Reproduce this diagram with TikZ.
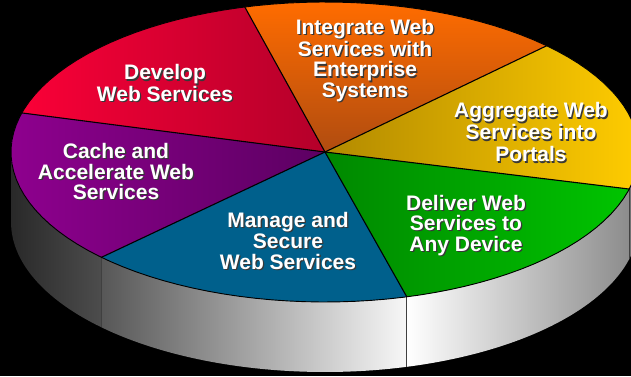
\documentclass[tikz,border=0pt]{standalone}
\usepackage{fontspec}
\setmainfont{Liberation Sans}
\definecolor{shadowc}{rgb}{0.22,0.22,0.22}
\definecolor{redL}{RGB}{250,0,55}
\definecolor{redR}{RGB}{180,0,42}
\definecolor{orT}{RGB}{255,108,0}
\definecolor{orB}{RGB}{176,76,16}
\definecolor{yeL}{RGB}{178,138,0}
\definecolor{yeR}{RGB}{255,204,0}
\definecolor{grL}{RGB}{0,136,0}
\definecolor{grR}{RGB}{0,196,0}
\definecolor{blu}{RGB}{0,96,140}
\definecolor{puL}{RGB}{142,0,142}
\definecolor{puR}{RGB}{92,0,98}
\newcommand\shd[1]{\leavevmode\rlap{\kern1.3pt\raisebox{-1.3pt}{\color{shadowc}#1}}#1}
\begin{document}
\begin{tikzpicture}[x=1pt,y=-1pt,
  lbl/.style={text=white, font=\fontsize{21}{20.5}\selectfont\bfseries, align=center, inner sep=0pt},
  sliceline/.style={draw=black, line width=1.1pt, line join=round, line cap=round},
  sideline/.style={draw=black!75, line width=0.9pt}]
\useasboundingbox (0,0) rectangle (631,376);
\fill[black] (0,0) rectangle (631,376);
\coordinate (C) at (325,152);
\coordinate (P1) at ({325+314*cos(255.2)},{152+150*sin(255.2)});
\coordinate (P2) at ({325+314*cos(314.9)},{152+150*sin(314.9)});
\coordinate (P3) at ({325+314*cos(14.3)},{152+150*sin(14.3)});
\coordinate (P4) at ({325+314*cos(74.9)},{152+150*sin(74.9)});
\coordinate (P5) at ({325+314*cos(135.4)},{152+150*sin(135.4)});
\coordinate (P6) at ({325+314*cos(195.1)},{152+150*sin(195.1)});
\coordinate (Q3) at ({325+314*cos(14.3)},{222+150*sin(14.3)});
\coordinate (Q4) at ({325+314*cos(74.9)},{222+150*sin(74.9)});
\coordinate (Q5) at ({325+314*cos(135.4)},{222+150*sin(135.4)});
% side pieces
\shade[left color=black!84, right color=black!70]
  plot[domain=135.4:180,samples=30] ({325+314*cos(\x)},{152+150*sin(\x)})
  -- plot[domain=180:135.4,samples=30] ({325+314*cos(\x)},{222+150*sin(\x)}) -- cycle;
\shade[left color=black!66, right color=white!97!black]
  plot[domain=74.9:135.4,samples=40] ({325+314*cos(\x)},{152+150*sin(\x)})
  -- plot[domain=135.4:74.9,samples=40] ({325+314*cos(\x)},{222+150*sin(\x)}) -- cycle;
\shade[left color=white, right color=black!45]
  plot[domain=14.3:74.9,samples=40] ({325+314*cos(\x)},{152+150*sin(\x)})
  -- plot[domain=74.9:14.3,samples=40] ({325+314*cos(\x)},{222+150*sin(\x)}) -- cycle;
\fill[black!55]
  plot[domain=0:14.3,samples=20] ({325+314*cos(\x)},{152+150*sin(\x)})
  -- plot[domain=14.3:0,samples=20] ({325+314*cos(\x)},{222+150*sin(\x)}) -- cycle;
\draw[sideline] (P5) -- (Q5);
\draw[sideline] (P4) -- (Q4);
\draw[sideline] (P3) -- (Q3);
% top slices
\shade[left color=redL, right color=redR] (C) -- plot[domain=195.1:255.2,samples=40] ({325+314*cos(\x)},{152+150*sin(\x)}) -- cycle;
\shade[top color=orT, bottom color=orB] (C) -- plot[domain=255.2:314.9,samples=40] ({325+314*cos(\x)},{152+150*sin(\x)}) -- cycle;
\shade[left color=yeL, right color=yeR] (C) -- plot[domain=314.9:374.3,samples=40] ({325+314*cos(\x)},{152+150*sin(\x)}) -- cycle;
\shade[left color=grL, right color=grR] (C) -- plot[domain=14.3:74.9,samples=40] ({325+314*cos(\x)},{152+150*sin(\x)}) -- cycle;
\fill[blu] (C) -- plot[domain=74.9:135.4,samples=40] ({325+314*cos(\x)},{152+150*sin(\x)}) -- cycle;
\shade[left color=puL, right color=puR] (C) -- plot[domain=135.4:195.1,samples=40] ({325+314*cos(\x)},{152+150*sin(\x)}) -- cycle;
% outlines
\draw[black, line width=0.9pt] plot[domain=0:360,samples=120] ({325+314*cos(\x)},{152+150*sin(\x)});
\draw[sliceline] (C) -- (P1);
\draw[sliceline] (C) -- (P2);
\draw[sliceline] (C) -- (P3);
\draw[sliceline] (C) -- (P4);
\draw[sliceline] (C) -- (P5);
\draw[sliceline] (C) -- (P6);
% labels
\node[lbl] (dev) at (165,83.8) {\shd{Develop}\\\shd{Web Services}};
\node[lbl] (int) at (365,61.2) {\shd{Integrate Web}\\\shd{Services with}\\\shd{Enterprise}\\\shd{Systems}};
\node[lbl, font=\fontsize{21}{22}\selectfont\bfseries] (agg) at (531,133) {\shd{Aggregate Web}\\\shd{Services into}\\\shd{Portals}};
\node[lbl] (cac) at (116,172.3) {\shd{Cache and}\\\shd{Accelerate Web}\\\shd{Services}};
\node[lbl, font=\fontsize{21}{21}\selectfont\bfseries] (man) at (288,241.7) {\shd{Manage and}\\\shd{Secure}\\\shd{Web Services}};
\node[lbl] (del) at (466,225.9) {\shd{Deliver Web}\\\shd{Services to}\\\shd{Any Device}};
\end{tikzpicture}
\end{document}
